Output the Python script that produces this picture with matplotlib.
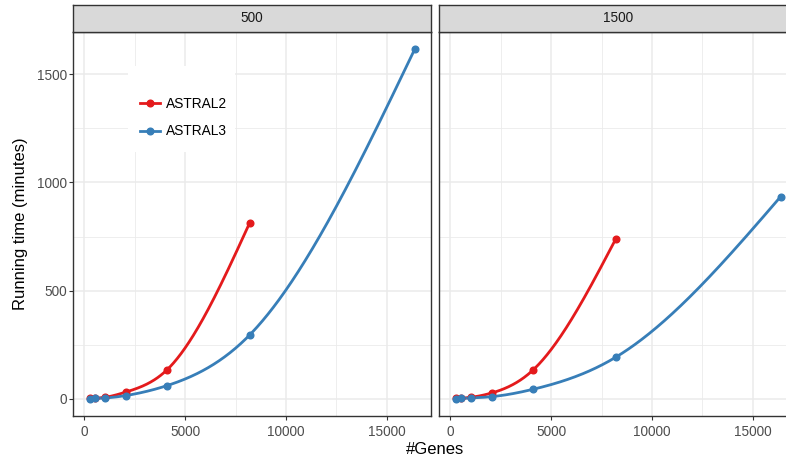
import matplotlib
matplotlib.use("Agg")
import matplotlib.pyplot as plt
import numpy as np
from matplotlib.lines import Line2D
from matplotlib.patches import Rectangle
from matplotlib.ticker import MultipleLocator

plt.rcParams['font.family'] = ['Liberation Sans', 'DejaVu Sans']

# datos
genes = [256, 512, 1024, 2048, 4096, 8192, 16384]
paneles = ["500", "1500"]
astral2_500 = [0.5, 1.5, 6, 30, 133, 812]
astral3_500 = [0.3, 1, 3, 14, 60, 294, 1617]
astral2_1500 = [0.5, 1.5, 6, 26, 132, 737]
astral3_1500 = [0.3, 1, 3, 9, 43, 191, 935]
metodos = ["ASTRAL2", "ASTRAL3"]
colores = {"ASTRAL2": "#E41A1C", "ASTRAL3": "#377EB8"}

series = {
    "500": {"ASTRAL2": astral2_500, "ASTRAL3": astral3_500},
    "1500": {"ASTRAL2": astral2_1500, "ASTRAL3": astral3_1500},
}


def spline_natural(x, y, xs):
    # spline cubico natural que pasa por los puntos
    x = np.asarray(x, dtype=float)
    y = np.asarray(y, dtype=float)
    n = len(x)
    h = np.diff(x)
    A = np.zeros((n, n))
    b = np.zeros(n)
    A[0, 0] = 1
    A[-1, -1] = 1
    for i in range(1, n - 1):
        A[i, i - 1] = h[i - 1]
        A[i, i] = 2 * (h[i - 1] + h[i])
        A[i, i + 1] = h[i]
        b[i] = 6 * ((y[i + 1] - y[i]) / h[i] - (y[i] - y[i - 1]) / h[i - 1])
    M = np.linalg.solve(A, b)
    out = np.empty_like(xs)
    for k, xv in enumerate(xs):
        i = min(max(np.searchsorted(x, xv) - 1, 0), n - 2)
        t1 = x[i + 1] - xv
        t0 = xv - x[i]
        out[k] = (M[i] * t1 ** 3 + M[i + 1] * t0 ** 3) / (6 * h[i]) \
            + (y[i] / h[i] - M[i] * h[i] / 6) * t1 \
            + (y[i + 1] / h[i] - M[i + 1] * h[i] / 6) * t0
    return out


W, H = 786, 461
fig = plt.figure(figsize=(W / 100, H / 100), dpi=100)

izq = [73.3, 439.3]
ancho = 357.7
arriba, abajo = 31.7, 416.0
strip_top = 5.3

todos_y = astral2_500 + astral3_500 + astral2_1500 + astral3_1500
ymin, ymax = min(todos_y), max(todos_y)
ypad = (ymax - ymin) * 0.05
xpad = (max(genes) - min(genes)) * 0.05

borde = "#333333"
for j, panel in enumerate(paneles):
    ax = fig.add_axes([izq[j] / W, (H - abajo) / H, ancho / W, (abajo - arriba) / H])
    ax.set_axisbelow(True)
    for nombre in metodos:
        yv = series[panel][nombre]
        xv = genes[:len(yv)]
        xs = np.linspace(xv[0], xv[-1], 300)
        ax.plot(xs, spline_natural(xv, yv, xs), color=colores[nombre], linewidth=2.0, zorder=3)
        ax.plot(xv, yv, 'o', color=colores[nombre], markersize=4.8, zorder=4)

    ax.set_xlim(min(genes) - xpad, max(genes) + xpad)
    ax.set_ylim(ymin - ypad, ymax + ypad)
    ax.xaxis.set_major_locator(MultipleLocator(5000))
    ax.xaxis.set_minor_locator(MultipleLocator(2500))
    ax.yaxis.set_major_locator(MultipleLocator(500))
    ax.yaxis.set_minor_locator(MultipleLocator(250))
    ax.grid(which='major', color='#EBEBEB', linewidth=1.1)
    ax.grid(which='minor', color='#EBEBEB', linewidth=0.6)
    ax.tick_params(which='minor', length=0)
    ax.tick_params(which='major', length=2.6, width=0.8, color=borde,
                   labelsize=9.8, labelcolor='#4D4D4D')
    ax.tick_params(axis='x', pad=4)
    ax.tick_params(axis='y', pad=2)
    for s in ax.spines.values():
        s.set_color(borde)
        s.set_linewidth(1.0)
    if j == 0:
        ax.set_ylabel("Running time (minutes)", fontsize=12, labelpad=6)
        ax.add_patch(Rectangle((0.153, 0.687), 0.299, 0.224, transform=ax.transAxes,
                               facecolor='white', edgecolor='none', zorder=1))
        handles = [Line2D([], [], color=colores[m], linewidth=2.0, marker='o', markersize=4.8)
                   for m in metodos]
        ax.legend(handles, metodos, loc='center left', bbox_to_anchor=(0.186, 0.776),
                  frameon=False, fontsize=9.9, handlelength=1.45, handletextpad=0.45,
                  labelspacing=0.95, borderpad=0, borderaxespad=0, numpoints=1)
    else:
        ax.tick_params(axis='y', which='both', left=False, labelleft=False)

    # franja del facet
    st = fig.add_axes([izq[j] / W, (H - arriba) / H, ancho / W, (arriba - strip_top) / H])
    st.set_facecolor('#D9D9D9')
    st.set_xticks([])
    st.set_yticks([])
    for s in st.spines.values():
        s.set_color(borde)
        s.set_linewidth(1.0)
    st.text(0.5, 0.5, panel, ha='center', va='center', fontsize=9.8, color='#1A1A1A',
            transform=st.transAxes)

fig.text(435 / W, (H - 449) / H, "#Genes", ha='center', va='center', fontsize=12)

fig.savefig("out.png", dpi=100)
